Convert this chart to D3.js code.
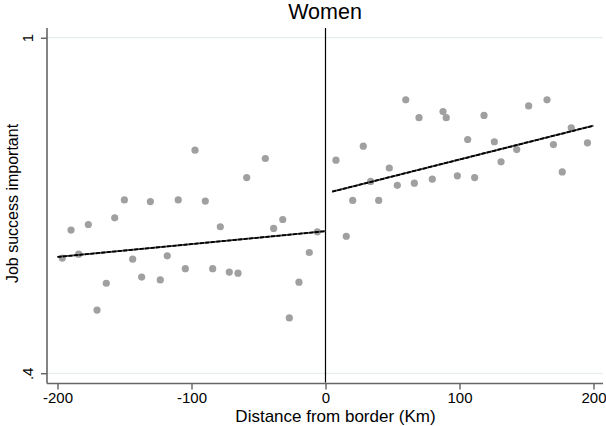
<!DOCTYPE html>
<meta charset="utf-8">
<style>
body { margin: 0; background: #fff; }
svg { display: block; font-family: "Liberation Sans", Arial, Helvetica, sans-serif; }
</style>
<svg width="606" height="426"></svg>
<script src="https://cdn.jsdelivr.net/npm/d3@7"></script>
<script>

// bins a la izquierda de la frontera
var xIzq = [-196.4, -189.9, -184.2, -177.0, -170.5, -163.6, -157.3, -150.1, -143.9, -137.2,
            -130.7, -123.3, -118.1, -109.9, -104.6, -97.4, -89.7, -84.2, -78.5, -71.8,
            -65.3, -58.8, -44.9, -38.7, -31.9, -27.0, -19.8, -12.1, -6.1];
var yIzq = [0.606, 0.656, 0.613, 0.666, 0.513, 0.561, 0.678, 0.710, 0.604, 0.572,
            0.707, 0.567, 0.610, 0.710, 0.587, 0.799, 0.708, 0.587, 0.662, 0.581,
            0.579, 0.750, 0.784, 0.659, 0.675, 0.499, 0.563, 0.616, 0.653];

// bins a la derecha
var xDer = [7.8, 15.5, 20.3, 28.2, 33.7, 39.7, 47.6, 53.6, 59.9, 66.3,
            69.8, 79.7, 87.7, 90.1, 98.4, 106.1, 111.3, 118.3, 126.0, 131.0,
            142.7, 151.6, 165.3, 170.1, 176.7, 183.4, 195.5];
var yDer = [0.781, 0.645, 0.709, 0.806, 0.743, 0.709, 0.767, 0.736, 0.889, 0.740,
            0.857, 0.747, 0.868, 0.857, 0.753, 0.818, 0.750, 0.861, 0.814, 0.778,
            0.800, 0.878, 0.889, 0.809, 0.760, 0.839, 0.812];

// rectas ajustadas (extremos)
var ajusteIzqX = [-200, 0], ajusteIzqY = [0.608, 0.654];
var ajusteDerX = [5, 200],  ajusteDerY = [0.7247, 0.8427];

var xTicks = [-200, -100, 0, 100, 200];
var yTicks = [0.4, 1];
var yTickLabels = [".4", "1"];

var svg = d3.select("svg");

var x = d3.scaleLinear().domain([-200, 200]).range([57.5, 593.5]);
var y = d3.scaleLinear().domain([0.4, 1]).range([373.3, 37.7]);

var plot = {left: 47, right: 603, top: 28, bottom: 383.5};

// grid
svg.append("g").selectAll("line")
    .data(yTicks).enter().append("line")
    .attr("x1", plot.left).attr("x2", plot.right)
    .attr("y1", d => y(d)).attr("y2", d => y(d))
    .attr("stroke", "#e6eeee").attr("stroke-width", 1.2);

// eje x (guion normal, no el signo menos de d3.format)
var gx = svg.append("g")
    .attr("transform", "translate(0," + plot.bottom + ")")
    .call(d3.axisBottom(x).tickValues(xTicks).tickSize(6).tickFormat(d => String(d)));
gx.select(".domain").remove();
gx.selectAll(".tick line").attr("stroke", "#222");
gx.selectAll(".tick text")
    .attr("y", 19).attr("dy", null)
    .attr("fill", "#000").style("font-size", "15px");

// eje y
var gy = svg.append("g")
    .attr("transform", "translate(" + plot.left + ",0)")
    .call(d3.axisLeft(y).tickValues(yTicks).tickSize(6).tickFormat((d, i) => yTickLabels[i]));
gy.select(".domain").remove();
gy.selectAll(".tick line").attr("stroke", "#222");
gy.selectAll(".tick text")
    .attr("x", null).attr("dy", null)
    .attr("transform", "translate(-14,0) rotate(-90)")
    .attr("text-anchor", "middle")
    .attr("fill", "#000").style("font-size", "15px");

// lineas de los ejes
svg.append("line")
    .attr("x1", plot.left).attr("x2", plot.left)
    .attr("y1", plot.top).attr("y2", plot.bottom)
    .attr("stroke", "#666").attr("stroke-width", 1.6);
svg.append("line")
    .attr("x1", plot.left).attr("x2", plot.right)
    .attr("y1", plot.bottom).attr("y2", plot.bottom)
    .attr("stroke", "#666").attr("stroke-width", 1.6);

// frontera
svg.append("line")
    .attr("x1", x(0)).attr("x2", x(0))
    .attr("y1", plot.top).attr("y2", plot.bottom - 1)
    .attr("stroke", "#000").attr("stroke-width", 1.2);

// puntos
var puntos = xIzq.map((d, i) => [d, yIzq[i]]).concat(xDer.map((d, i) => [d, yDer[i]]));
svg.append("g").selectAll("circle")
    .data(puntos).enter().append("circle")
    .attr("cx", d => x(d[0]))
    .attr("cy", d => y(d[1]))
    .attr("r", 3.6)
    .attr("fill", "#a0a0a0");

// rectas
var linea = d3.line().x(d => x(d[0])).y(d => y(d[1]));
[[ajusteIzqX, ajusteIzqY], [ajusteDerX, ajusteDerY]].forEach(function(a) {
  var pts = a[0].map((d, i) => [d, a[1][i]]);
  svg.append("path").datum(pts)
      .attr("d", linea).attr("fill", "none")
      .attr("stroke", "#444").attr("stroke-width", 1.8);
  svg.append("path").datum(pts)
      .attr("d", linea).attr("fill", "none")
      .attr("stroke", "#000").attr("stroke-width", 1.8)
      .attr("stroke-dasharray", "4,1.5");
});

// titulos
svg.append("text")
    .attr("x", 325).attr("y", 18.5)
    .attr("text-anchor", "middle")
    .style("font-size", "21.5px")
    .text("Women");

svg.append("text")
    .attr("x", 335.5).attr("y", 421.5)
    .attr("text-anchor", "middle")
    .style("font-size", "17px")
    .text("Distance from border (Km)");

svg.append("text")
    .attr("transform", "translate(18,203.5) rotate(-90)")
    .attr("text-anchor", "middle")
    .style("font-size", "16px")
    .text("Job success important");

</script>
